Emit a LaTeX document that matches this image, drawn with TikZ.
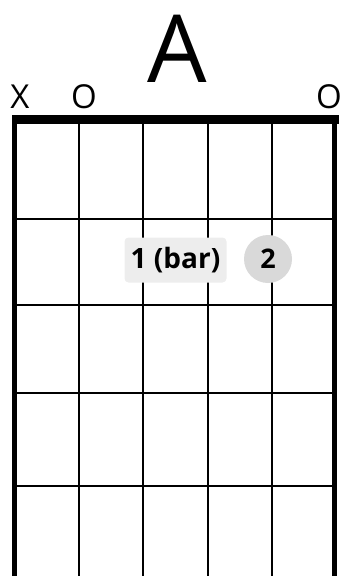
\documentclass[tikz,border=0pt]{standalone}
\usepackage{fontspec}
\setmainfont{Open Sans}
\begin{document}
\begin{tikzpicture}[x=1pt,y=-1pt]
\useasboundingbox (0,0) rectangle (342,576);
\tikzset{fret/.style={line width=2pt},
  outer/.style={line width=4.5pt},
  finger/.style={fill=black!15,circle,minimum size=48pt,inner sep=0pt,font=\bfseries\fontsize{27}{27}\selectfont}}
\draw[fret] (79,119) -- (79,576);
\draw[fret] (143,119) -- (143,576);
\draw[fret] (208,119) -- (208,576);
\draw[fret] (272,119) -- (272,576);
\draw[fret] (14.5,219) -- (334.5,219);
\draw[fret] (14.5,305) -- (334.5,305);
\draw[fret] (14.5,393) -- (334.5,393);
\draw[fret] (14.5,486) -- (334.5,486);
\draw[outer] (14.5,119) -- (14.5,576);
\draw[outer] (334.5,119) -- (334.5,576);
\draw[line width=8.5pt] (12.3,119.5) -- (339,119.5);
\node (chord) at (177,49) {\fontsize{94}{94}\selectfont A};
\node (mute) at (20,97) {\fontsize{33}{33}\selectfont X};
\node (open2) at (84,97) {\fontsize{33}{33}\selectfont O};
\node (open6) at (329,97) {\fontsize{33}{33}\selectfont O};
\node[fill=black!7,rounded corners=4pt,minimum width=102pt,minimum height=45pt,font=\bfseries\fontsize{28}{28}\selectfont] (bar) at (175.5,260) {1 (bar)};
\node[finger] (f2) at (268,259) {2};
\end{tikzpicture}
\end{document}
